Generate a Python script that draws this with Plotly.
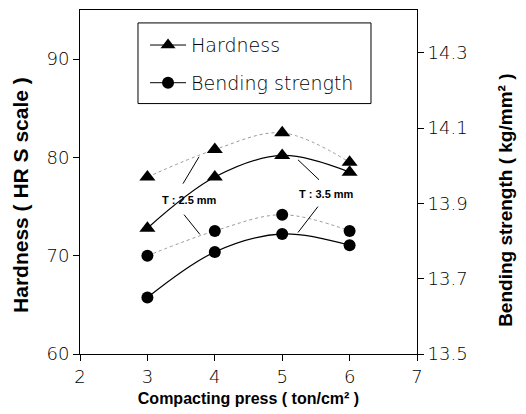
import plotly.graph_objects as go

press = [3, 4, 5, 6]
hard_25 = [78.0, 80.8, 82.5, 79.5]
hard_35 = [72.8, 78.0, 80.2, 78.5]
bend_25 = [13.761, 13.827, 13.870, 13.827]
bend_35 = [13.650, 13.771, 13.819, 13.789]

x_ticks = [2, 3, 4, 5, 6, 7]
y_ticks = [60, 70, 80, 90]
y2_ticks = [13.5, 13.7, 13.9, 14.1, 14.3]

LIGHT = "DejaVu Sans"
BOLD = "Liberation Sans, Arial"

fig = go.Figure()

dot_line = dict(color="#999999", width=1, dash="dot", shape="spline")
solid_line = dict(color="black", width=1.2, shape="spline")

fig.add_trace(go.Scatter(x=press, y=hard_25, mode="lines+markers", line=dot_line,
                         marker=dict(symbol="triangle-up", size=14, color="black"),
                         showlegend=False))
fig.add_trace(go.Scatter(x=press, y=hard_35, mode="lines+markers", line=solid_line,
                         marker=dict(symbol="triangle-up", size=14, color="black"),
                         showlegend=False))
fig.add_trace(go.Scatter(x=press, y=bend_25, mode="lines+markers", line=dot_line,
                         marker=dict(symbol="circle", size=12, color="black"),
                         yaxis="y2", showlegend=False))
fig.add_trace(go.Scatter(x=press, y=bend_35, mode="lines+markers", line=solid_line,
                         marker=dict(symbol="circle", size=12, color="black"),
                         yaxis="y2", showlegend=False))

# legend entries
fig.add_trace(go.Scatter(x=[None], y=[None], mode="lines+markers", name="Hardness",
                         line=dict(color="black", width=1),
                         marker=dict(symbol="triangle-up", size=13, color="black"),
                         legendgroup="a"))
fig.add_trace(go.Scatter(x=[None], y=[None], mode="lines+markers", name="Bending strength",
                         line=dict(color="black", width=1),
                         marker=dict(symbol="circle", size=12, color="black"),
                         legendgroup="b"))

# legend frame
fig.add_shape(type="rect", xref="paper", yref="paper",
              x0=0.1721, x1=0.8635, y0=0.728, y1=0.9624,
              line=dict(color="black", width=1), fillcolor="rgba(0,0,0,0)", layer="above")

# labels and leader lines
fig.add_annotation(x=3.62, y=75.7, text="T : 2.5 mm", showarrow=False,
                   font=dict(family=BOLD, size=11, color="black", weight="bold"))
fig.add_annotation(x=5.66, y=76.3, text="T : 3.5 mm", showarrow=False,
                   font=dict(family=BOLD, size=11, color="black", weight="bold"))
leaders = [
    (3.528, 77.33, 3.766, 80.06),
    (3.543, 74.18, 3.78, 72.16),
    (5.546, 77.73, 5.234, 79.76),
    (5.531, 75.0, 5.234, 72.36),
]
for x0, y0, x1, y1 in leaders:
    fig.add_shape(type="line", x0=x0, y0=y0, x1=x1, y1=y1, xref="x", yref="y",
                  line=dict(color="black", width=1))

# axis titles (y titles as annotations to match their off-centre placement)
fig.add_annotation(xref="paper", yref="paper", x=-0.175, y=0.4624,
                   xanchor="center", yanchor="middle",
                   text="Hardness ( HR S scale )", textangle=-90, showarrow=False,
                   font=dict(family=BOLD, size=21, color="black", weight="bold"))
fig.add_annotation(xref="paper", yref="paper", x=1.264, y=0.4480,
                   xanchor="center", yanchor="middle",
                   text="Bending strength ( kg/mm² )", textangle=-90, showarrow=False,
                   font=dict(family=BOLD, size=19, color="black", weight="bold"))

tickfont = dict(family=LIGHT, size=18, color="black", weight=200)

fig.update_layout(
    width=526, height=414,
    margin=dict(l=80, r=109, t=9, b=59),
    paper_bgcolor="white", plot_bgcolor="white",
    xaxis=dict(range=[2, 7], tickvals=x_ticks, ticks="outside", ticklen=6,
               tickcolor="black", showline=True, linecolor="black", linewidth=1,
               mirror=True, showgrid=False, zeroline=False, tickfont=tickfont,
               title=dict(text="Compacting press ( ton/cm² )", standoff=7,
                          font=dict(family=BOLD, size=16, color="black", weight="bold"))),
    yaxis=dict(range=[60, 95], tickvals=y_ticks, ticks="outside", ticklen=6,
               tickcolor="black", showline=True, linecolor="black", linewidth=1,
               showgrid=False, zeroline=False, tickfont=tickfont),
    yaxis2=dict(range=[13.5, 14.414], tickvals=y2_ticks, ticktext=[f"{v:.1f}" for v in y2_ticks],
                overlaying="y", side="right", ticks="outside", ticklen=6,
                tickcolor="black", showline=True, linecolor="black", linewidth=1,
                showgrid=False, zeroline=False, tickfont=tickfont),
    legend=dict(x=0.193, y=0.953, xanchor="left", yanchor="top",
                borderwidth=0, bgcolor="rgba(0,0,0,0)",
                font=dict(family=LIGHT, size=19, color="black", weight=200),
                tracegroupgap=10, itemwidth=36),
)

fig.write_html("out.html")
